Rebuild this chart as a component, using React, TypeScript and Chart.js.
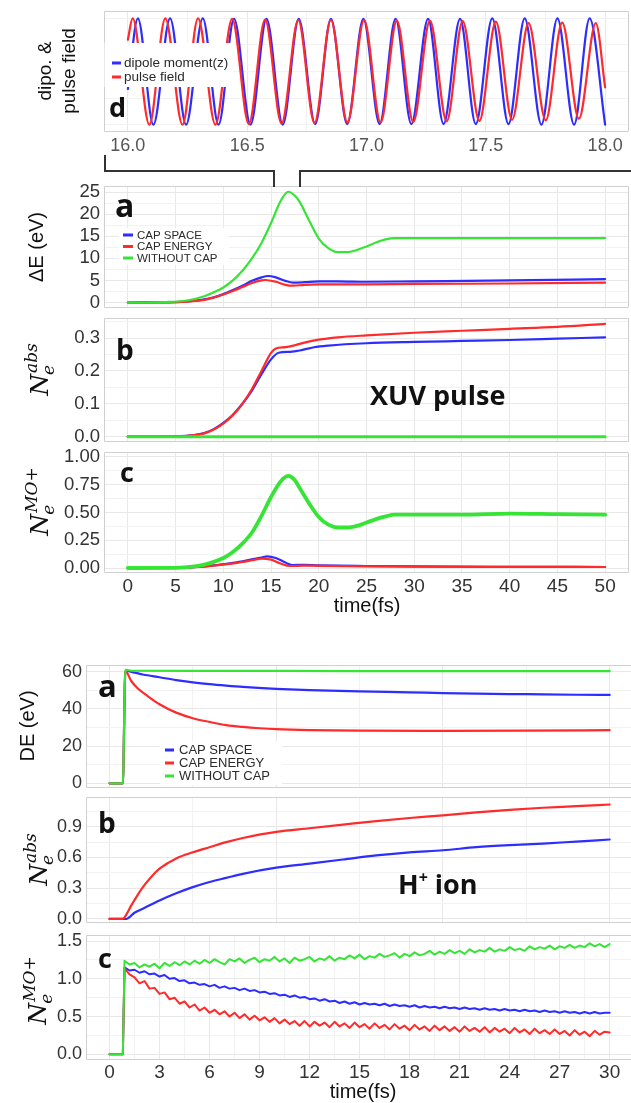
import React, { useEffect, useRef } from 'react';
import { Chart, registerables } from 'chart.js';

Chart.register(...registerables);

const PAGE_W = 631;
const PAGE_H = 1103;

const BLUE = '#2d2dff';
const RED = '#ff2a2a';
const GREEN = '#36e436';
const GRID_MAJOR = '#e8e8e8';
const GRID_MINOR = '#f2f2f2';
const FRAME = '#d0d0d0';
const SANS = "'Liberation Sans', Arial, sans-serif";
const BOLD = "'Open Sans', sans-serif";
const MATH = "'DejaVu Serif', serif";

// ---------- (d) dipole moment and pulse field, 16–18 fs: turning points ----------
const DIPOLE_T = [16.0, 16.042, 16.107, 16.177, 16.244, 16.314, 16.38, 16.445, 16.514, 16.581, 16.649, 16.716, 16.785, 16.851, 16.919, 16.987, 17.055, 17.122, 17.188, 17.258, 17.323, 17.392, 17.458, 17.527, 17.595, 17.663, 17.733, 17.8, 17.87, 17.935, 18.0];
const DIPOLE_V = [-0.33, 1.0, -1.0, 1.0, -1.0, 1.0, -1.0, 0.99, -1.0, 0.99, -1.0, 0.99, -0.99, 0.99, -0.99, 0.99, -0.99, 0.99, -0.99, 0.99, -0.99, 0.99, -0.99, 1.0, -0.99, 1.0, -1.0, 1.0, -1.0, 1.0, -1.0];
const PULSE_T = [16.0, 16.02, 16.09, 16.157, 16.229, 16.294, 16.367, 16.437, 16.507, 16.575, 16.644, 16.714, 16.782, 16.851, 16.92, 16.99, 17.059, 17.127, 17.196, 17.266, 17.336, 17.403, 17.473, 17.542, 17.61, 17.679, 17.751, 17.82, 17.89, 17.961, 18.0];
const PULSE_V = [0.6, 1.0, -1.0, 1.0, -1.0, 1.0, -1.0, 0.99, -0.99, 0.98, -0.98, 0.97, -0.97, 0.97, -0.96, 0.97, -0.96, 0.96, -0.95, 0.96, -0.94, 0.95, -0.93, 0.94, -0.91, 0.91, -0.92, 0.92, -0.89, 0.91, -0.3];

// ---------- XUV pulse, 0–50 fs ----------
// (a) energy gain ΔE (eV)
const XA_T_GREEN = [0, 2, 4, 6, 7, 8, 9, 10, 11, 12, 13, 14, 15, 16, 16.8, 17.5, 18, 19, 20, 21, 22, 23, 24, 25, 26, 27, 28, 30, 35, 40, 45, 50];
const XA_GREEN = [0, 0, 0.1, 0.4, 0.8, 1.4, 2.3, 3.4, 5.0, 7.2, 10.0, 13.5, 18.0, 23.0, 25.1, 24.2, 22.8, 18.5, 14.5, 12.3, 11.4, 11.4, 11.9, 12.7, 13.6, 14.3, 14.6, 14.6, 14.6, 14.6, 14.6, 14.6];
const XA_T_RED = [0, 5, 7, 8, 9, 10, 11, 12, 13, 14, 14.4, 15.5, 16.5, 17.3, 18.5, 20, 25, 30, 40, 50];
const XA_RED = [0, 0.05, 0.35, 0.6, 1.1, 1.8, 2.6, 3.5, 4.4, 5.0, 5.1, 4.7, 4.0, 3.8, 4.0, 4.1, 4.1, 4.2, 4.3, 4.5];
const XA_T_BLUE = [0, 5, 7, 8, 9, 10, 11, 12, 13, 14, 14.7, 15.5, 16.5, 17.3, 18.5, 20, 22, 25, 30, 40, 50];
const XA_BLUE = [0, 0.1, 0.4, 0.7, 1.2, 1.9, 2.8, 3.8, 4.9, 5.7, 6.0, 5.7, 4.9, 4.5, 4.6, 4.8, 4.8, 4.7, 4.8, 5.0, 5.3];

// (b) absorbed electrons
const XB_T_GREEN = [0, 50];
const XB_GREEN = [0, 0];
const XB_T_RED = [0, 5, 7, 8, 9, 10, 11, 12, 13, 14, 15, 15.5, 16.5, 17.5, 18.5, 20, 22, 25, 30, 35, 40, 45, 50];
const XB_RED = [0, 0.001, 0.005, 0.01, 0.022, 0.04, 0.065, 0.1, 0.145, 0.2, 0.255, 0.268, 0.272, 0.278, 0.286, 0.295, 0.302, 0.308, 0.316, 0.322, 0.328, 0.334, 0.343];
const XB_T_BLUE = [0, 5, 7, 8, 9, 10, 11, 12, 13, 14, 15, 15.8, 17, 18, 19.5, 21, 25, 30, 35, 40, 45, 50];
const XB_BLUE = [0, 0.001, 0.005, 0.011, 0.023, 0.042, 0.067, 0.1, 0.14, 0.19, 0.235, 0.255, 0.258, 0.262, 0.272, 0.277, 0.284, 0.288, 0.291, 0.294, 0.298, 0.302];

// (c) electrons left in the MO
const XC_T_GREEN = [0, 5, 7, 8, 9, 10, 11, 12, 13, 14, 15, 16, 16.8, 17.5, 18, 19, 20, 21, 22, 23, 24, 25, 26, 27, 28, 30, 35, 40, 45, 50];
const XC_GREEN = [0, 0.002, 0.015, 0.03, 0.055, 0.09, 0.145, 0.22, 0.32, 0.47, 0.64, 0.78, 0.83, 0.79, 0.72, 0.58, 0.46, 0.39, 0.365, 0.365, 0.38, 0.41, 0.44, 0.465, 0.48, 0.48, 0.48, 0.49, 0.485, 0.48];
const XC_T_RED = [0, 5, 8, 10, 12, 13, 14, 15, 16, 17, 18.5, 20, 25, 30, 40, 50];
const XC_RED = [0, 0.002, 0.013, 0.03, 0.055, 0.07, 0.085, 0.075, 0.04, 0.018, 0.022, 0.02, 0.015, 0.012, 0.01, 0.009];
const XC_T_BLUE = [0, 5, 8, 10, 12, 13, 14, 14.6, 15.5, 16.5, 17.2, 18.5, 20, 25, 30, 40, 50];
const XC_BLUE = [0, 0.002, 0.015, 0.035, 0.06, 0.078, 0.095, 0.105, 0.09, 0.05, 0.027, 0.028, 0.024, 0.018, 0.014, 0.011, 0.009];

// ---------- H+ ion, 0–30 fs ----------
// (a) DE (eV)
const IA_T_GREEN = [0, 0.8, 0.95, 1.3, 5, 10, 20, 30];
const IA_GREEN = [0, 0, 61, 60.5, 60.4, 60.4, 60.3, 60.3];
const IA_T_RED = [0, 0.8, 0.95, 1.3, 1.7, 2.2, 3, 4, 5, 6, 7, 8, 9, 10, 12, 15, 20, 25, 30];
const IA_RED = [0, 0, 60.5, 55, 51, 47.5, 42.5, 38, 35, 33, 31.3, 30.3, 29.6, 29.1, 28.6, 28.3, 28.2, 28.3, 28.6];
const IA_T_BLUE = [0, 0.8, 0.95, 1.5, 2, 3, 4, 5, 6, 7, 8, 10, 12, 15, 18, 20, 22, 25, 28, 30];
const IA_BLUE = [0, 0, 60.5, 59.5, 58.5, 57, 55.5, 54.3, 53.3, 52.5, 51.8, 50.8, 50.1, 49.4, 48.9, 48.5, 48.2, 47.9, 47.6, 47.5];

// (b) absorbed electrons
const IB_T_RED = [0, 0.8, 1.0, 1.3, 1.6, 2.0, 2.5, 3.0, 4, 5, 6, 7, 8, 10, 12, 14, 16, 18, 20, 22, 24, 26, 28, 30];
const IB_RED = [0, 0, 0.04, 0.13, 0.21, 0.31, 0.41, 0.49, 0.59, 0.65, 0.7, 0.75, 0.79, 0.85, 0.885, 0.92, 0.955, 0.985, 1.01, 1.04, 1.065, 1.085, 1.1, 1.117];
const IB_T_BLUE = [0, 0.8, 1.0, 1.5, 2, 2.5, 3, 4, 5, 6, 7, 8, 10, 12, 14, 16, 18, 20, 22, 24, 26, 28, 30];
const IB_BLUE = [0, 0, 0, 0.06, 0.1, 0.14, 0.18, 0.25, 0.31, 0.36, 0.4, 0.44, 0.5, 0.54, 0.58, 0.62, 0.65, 0.67, 0.7, 0.72, 0.735, 0.755, 0.775];

// (c) electrons left in the MO (sampled every 0.3 fs after the kick)
const IC_T = [
  0, 0.8,
  0.9, 1.2, 1.5, 1.8, 2.1, 2.4, 2.7, 3.0, 3.3, 3.6,
  3.9, 4.2, 4.5, 4.8, 5.1, 5.4, 5.7, 6.0, 6.3, 6.6,
  6.9, 7.2, 7.5, 7.8, 8.1, 8.4, 8.7, 9.0, 9.3, 9.6,
  9.9, 10.2, 10.5, 10.8, 11.1, 11.4, 11.7, 12.0, 12.3, 12.6,
  12.9, 13.2, 13.5, 13.8, 14.1, 14.4, 14.7, 15.0, 15.3, 15.6,
  15.9, 16.2, 16.5, 16.8, 17.1, 17.4, 17.7, 18.0, 18.3, 18.6,
  18.9, 19.2, 19.5, 19.8, 20.1, 20.4, 20.7, 21.0, 21.3, 21.6,
  21.9, 22.2, 22.5, 22.8, 23.1, 23.4, 23.7, 24.0, 24.3, 24.6,
  24.9, 25.2, 25.5, 25.8, 26.1, 26.4, 26.7, 27.0, 27.3, 27.6,
  27.9, 28.2, 28.5, 28.8, 29.1, 29.4, 29.7, 30.0,
];
const IC_GREEN = [
  0, 0,
  1.24, 1.19, 1.21, 1.15, 1.19, 1.16, 1.20, 1.14, 1.21, 1.17,
  1.22, 1.18, 1.23, 1.19, 1.24, 1.20, 1.25, 1.21, 1.26, 1.22,
  1.19, 1.26, 1.23, 1.27, 1.21, 1.25, 1.28, 1.22, 1.26, 1.24,
  1.29, 1.23, 1.27, 1.21, 1.28, 1.24, 1.26, 1.29, 1.23, 1.27,
  1.25, 1.30, 1.24, 1.28, 1.26, 1.31, 1.27, 1.32, 1.26, 1.30,
  1.28, 1.33, 1.29, 1.31, 1.34, 1.28, 1.33, 1.30, 1.35, 1.31,
  1.33, 1.37, 1.32, 1.36, 1.33, 1.38, 1.34, 1.37, 1.33, 1.39,
  1.35, 1.38, 1.36, 1.41, 1.36, 1.39, 1.37, 1.42, 1.38, 1.40,
  1.37, 1.43, 1.39, 1.42, 1.40, 1.44, 1.39, 1.43, 1.41, 1.45,
  1.41, 1.44, 1.42, 1.47, 1.43, 1.46, 1.42, 1.46,
];
const IC_BLUE = [
  0, 0,
  1.15, 1.11, 1.12, 1.08, 1.10, 1.06, 1.07, 1.03, 1.05, 1.00,
  1.01, 0.97, 0.98, 0.94, 0.95, 0.92, 0.93, 0.90, 0.92, 0.88,
  0.90, 0.87, 0.88, 0.85, 0.87, 0.84, 0.85, 0.82, 0.83, 0.80,
  0.81, 0.78, 0.79, 0.76, 0.78, 0.75, 0.76, 0.73, 0.74, 0.71,
  0.73, 0.70, 0.71, 0.68, 0.70, 0.67, 0.69, 0.66, 0.68, 0.66,
  0.67, 0.65, 0.67, 0.64, 0.66, 0.64, 0.65, 0.63, 0.65, 0.62,
  0.64, 0.62, 0.63, 0.61, 0.63, 0.61, 0.62, 0.60, 0.62, 0.60,
  0.61, 0.59, 0.61, 0.59, 0.60, 0.58, 0.60, 0.58, 0.59, 0.57,
  0.59, 0.57, 0.58, 0.56, 0.58, 0.56, 0.57, 0.55, 0.57, 0.55,
  0.56, 0.54, 0.56, 0.54, 0.56, 0.54, 0.55, 0.55,
];
const IC_RED = [
  0, 0,
  1.14, 1.06, 1.02, 0.94, 0.97, 0.87, 0.88, 0.80, 0.82, 0.73,
  0.75, 0.67, 0.70, 0.62, 0.66, 0.58, 0.62, 0.55, 0.59, 0.53,
  0.57, 0.50, 0.55, 0.48, 0.53, 0.46, 0.51, 0.45, 0.49, 0.43,
  0.48, 0.41, 0.46, 0.40, 0.44, 0.38, 0.44, 0.37, 0.43, 0.38,
  0.42, 0.36, 0.43, 0.37, 0.41, 0.35, 0.42, 0.36, 0.40, 0.34,
  0.41, 0.35, 0.39, 0.33, 0.40, 0.34, 0.38, 0.32, 0.39, 0.33,
  0.37, 0.31, 0.38, 0.32, 0.37, 0.31, 0.36, 0.30, 0.37, 0.31,
  0.35, 0.30, 0.36, 0.29, 0.35, 0.30, 0.34, 0.28, 0.35, 0.29,
  0.33, 0.27, 0.34, 0.28, 0.32, 0.27, 0.33, 0.27, 0.31, 0.25,
  0.32, 0.26, 0.30, 0.24, 0.31, 0.26, 0.30, 0.29,
];

// ---------- ticks and grid positions ----------
const D_X_LABELS = [16.0, 16.5, 17.0, 17.5, 18.0];
const D_X_GRID = [16.0, 16.25, 16.5, 16.75, 17.0, 17.25, 17.5, 17.75, 18.0];
const D_Y_GRID = [-1, -0.5, 0, 0.5, 1];
const XUV_X_LABELS = [0, 5, 10, 15, 20, 25, 30, 35, 40, 45, 50];
const XA_Y_LABELS = [0, 5, 10, 15, 20, 25];
const XA_Y_GRID = [0, 2.5, 5, 7.5, 10, 12.5, 15, 17.5, 20, 22.5, 25];
const XB_Y_LABELS = [0, 0.1, 0.2, 0.3];
const XB_Y_GRID = [0, 0.05, 0.1, 0.15, 0.2, 0.25, 0.3, 0.35];
const XC_Y_LABELS = [0, 0.25, 0.5, 0.75, 1.0];
const XC_Y_GRID = [0, 0.125, 0.25, 0.375, 0.5, 0.625, 0.75, 0.875, 1.0];
const ION_X_LABELS = [0, 3, 6, 9, 12, 15, 18, 21, 24, 27, 30];
const ION_X_GRID_C = [0, 1.5, 3, 4.5, 6, 7.5, 9, 10.5, 12, 13.5, 15, 16.5, 18, 19.5, 21, 22.5, 24, 25.5, 27, 28.5, 30];
const ION_X_GRID_AB = [0, 5, 10, 15, 20, 25, 30];
const ION_X_MAJOR_AB = [0, 10, 20, 30];
const IA_Y_LABELS = [0, 20, 40, 60];
const IA_Y_GRID = [0, 10, 20, 30, 40, 50, 60];
const IB_Y_LABELS = [0, 0.3, 0.6, 0.9];
const IB_Y_GRID = [0, 0.15, 0.3, 0.45, 0.6, 0.75, 0.9, 1.05];
const IC_Y_LABELS = [0, 0.5, 1.0, 1.5];
const IC_Y_GRID = [0, 0.25, 0.5, 0.75, 1.0, 1.25, 1.5];

const CAP_LEGEND: [string, string][] = [
  ['CAP SPACE', BLUE],
  ['CAP ENERGY', RED],
  ['WITHOUT CAP', GREEN],
];
const D_LEGEND: [string, string][] = [
  ['dipole moment(z)', BLUE],
  ['pulse field', RED],
];

// ---------- panel machinery ----------
type Series = { t: number[]; v: number[]; color: string; width: number; smooth: boolean };
type Axis = {
  min: number; max: number; grid: number[]; major: number[]; show: boolean;
  fmt: (v: number) => string; size?: number; color?: string; pad?: number;
};
type Legend = { items: [string, string][]; box: number[]; mark: number[]; textX: number; rows: number[]; size: number };
type Label = any;
type Panel = {
  top: number; height: number;
  area: { left: number; top: number; right: number; bottom: number };
  frameRight: boolean; x: Axis; y: Axis; series: Series[]; legend?: Legend; labels: Label[];
};

const near = (list: number[], v: number) => list.some((u) => Math.abs(u - v) < 1e-6);
const f0 = (v: number) => String(Math.round(v));
const f1 = (v: number) => v.toFixed(1);
const f2 = (v: number) => v.toFixed(2);

function scaleOptions(a: Axis, horizontal: boolean, fit: number) {
  return {
    type: 'linear',
    position: horizontal ? 'bottom' : 'left',
    min: a.min,
    max: a.max,
    afterBuildTicks: (s: any) => {
      s.ticks = a.grid.map((value) => ({ value }));
    },
    afterFit: (s: any) => {
      if (horizontal) {
        s.height = fit;
        s.paddingLeft = 0;
        s.paddingRight = 0;
      } else {
        s.width = fit;
        s.paddingTop = 0;
        s.paddingBottom = 0;
      }
    },
    ticks: {
      display: a.show,
      autoSkip: false,
      maxRotation: 0,
      minRotation: 0,
      padding: a.pad ?? 4,
      color: a.color ?? '#333',
      font: { family: SANS, size: a.size ?? 18 },
      callback: (value: number) => (near(a.major, value) ? a.fmt(value) : ''),
    },
    grid: {
      drawTicks: false,
      lineWidth: 1,
      color: (ctx: any) => (ctx.tick && near(a.major, ctx.tick.value) ? GRID_MAJOR : GRID_MINOR),
    },
    border: { display: false },
  };
}

function drawLabel(ctx: CanvasRenderingContext2D, l: Label, offY: number) {
  ctx.save();
  ctx.fillStyle = l.color ?? '#111';
  if (l.kind === 'math') {
    ctx.translate(l.x, l.y - offY);
    ctx.rotate(-Math.PI / 2);
    ctx.textAlign = 'left';
    ctx.textBaseline = 'alphabetic';
    const big = `italic normal ${l.size}px ${MATH}`;
    const small = `italic normal ${l.small}px ${MATH}`;
    ctx.font = big;
    const wb = ctx.measureText(l.base).width;
    ctx.font = small;
    const ws = Math.max(ctx.measureText(l.sub).width, ctx.measureText(l.sup).width);
    const x0 = -(wb + ws) / 2;
    ctx.font = big;
    ctx.fillText(l.base, x0, 0);
    ctx.font = small;
    ctx.fillText(l.sub, x0 + wb - 1, 6);
    ctx.fillText(l.sup, x0 + wb + 1, -11);
  } else if (l.kind === 'runs') {
    let x = l.x;
    ctx.textAlign = 'left';
    ctx.textBaseline = 'alphabetic';
    for (const r of l.runs) {
      ctx.font = `normal bold ${r.size}px ${BOLD}`;
      ctx.fillText(r.text, x, l.y - offY + (r.dy ?? 0));
      x += ctx.measureText(r.text).width;
    }
  } else {
    ctx.font = `normal ${l.weight ?? 'normal'} ${l.size}px ${l.family ?? SANS}`;
    ctx.textAlign = l.align ?? 'left';
    ctx.textBaseline = l.baseline ?? 'alphabetic';
    ctx.translate(l.x, l.y - offY);
    if (l.rotate) ctx.rotate(-Math.PI / 2);
    ctx.fillText(l.text, 0, 0);
  }
  ctx.restore();
}

function decorations(p: Panel) {
  return {
    id: 'panelDecor',
    afterDatasetsDraw(chart: any) {
      const ctx: CanvasRenderingContext2D = chart.ctx;
      const a = chart.chartArea;
      ctx.save();
      ctx.strokeStyle = FRAME;
      ctx.lineWidth = 1;
      ctx.beginPath();
      if (p.frameRight) {
        ctx.rect(a.left + 0.5, a.top + 0.5, a.right - a.left - 1, a.bottom - a.top - 1);
      } else {
        ctx.moveTo(a.right, a.top + 0.5);
        ctx.lineTo(a.left + 0.5, a.top + 0.5);
        ctx.lineTo(a.left + 0.5, a.bottom - 0.5);
        ctx.lineTo(a.right, a.bottom - 0.5);
      }
      ctx.stroke();
      const lg = p.legend;
      if (lg) {
        const oy = p.top;
        ctx.fillStyle = '#ffffff';
        ctx.fillRect(lg.box[0], lg.box[1] - oy, lg.box[2], lg.box[3]);
        ctx.font = `${lg.size}px ${SANS}`;
        ctx.textAlign = 'left';
        ctx.textBaseline = 'middle';
        lg.items.forEach(([name, color], i) => {
          const yy = lg.rows[i] - oy;
          ctx.strokeStyle = color;
          ctx.lineWidth = 3;
          ctx.beginPath();
          ctx.moveTo(lg.mark[0], yy);
          ctx.lineTo(lg.mark[1], yy);
          ctx.stroke();
          ctx.fillStyle = '#2a2a2a';
          ctx.fillText(name, lg.textX, yy + 0.5);
        });
      }
      ctx.restore();
    },
    afterDraw(chart: any) {
      p.labels.forEach((l) => drawLabel(chart.ctx, l, p.top));
    },
  };
}

function PanelChart({ p }: { p: Panel }) {
  const ref = useRef<HTMLCanvasElement>(null);
  useEffect(() => {
    const canvas = ref.current;
    if (!canvas) return;
    const chart = new Chart(canvas, {
      type: 'line',
      data: {
        datasets: p.series.map((s, i) => ({
          data: s.t.map((t, k) => ({ x: t, y: s.v[k] })),
          borderColor: s.color,
          borderWidth: s.width,
          pointRadius: 0,
          pointHoverRadius: 0,
          fill: false,
          tension: 0,
          cubicInterpolationMode: s.smooth ? 'monotone' : 'default',
          borderJoinStyle: 'round',
          borderCapStyle: 'round',
          order: i,
        })),
      },
      options: {
        animation: false,
        responsive: false,
        maintainAspectRatio: false,
        devicePixelRatio: 1,
        events: [],
        layout: { padding: { left: 0, top: p.area.top - p.top, right: PAGE_W - p.area.right, bottom: 0 } },
        plugins: { legend: { display: false }, tooltip: { enabled: false }, title: { display: false } },
        scales: {
          x: scaleOptions(p.x, true, p.top + p.height - p.area.bottom),
          y: scaleOptions(p.y, false, p.area.left),
        },
      } as any,
      plugins: [decorations(p)],
    } as any);
    return () => chart.destroy();
  }, [p]);
  return (
    <canvas
      ref={ref}
      width={PAGE_W}
      height={p.height}
      style={{ position: 'absolute', left: 0, top: p.top, width: PAGE_W, height: p.height }}
    />
  );
}

const txt = (text: string, x: number, y: number, size: number, extra: any = {}) => ({ kind: 'text', text, x, y, size, ...extra });
const vtitle = (text: string, x: number, y: number, size: number) =>
  txt(text, x, y, size, { rotate: true, align: 'center', baseline: 'middle' });
const letter = (text: string, x: number, y: number, size: number) =>
  txt(text, x, y, size, { family: BOLD, weight: 'bold' });
const nLabel = (sup: string, x: number, y: number) => ({ kind: 'math', base: 'N', sub: 'e', sup, x, y, size: 25, small: 17 });

const PANELS: Panel[] = [
  {
    top: 0, height: 165, area: { left: 104, top: 11, right: 629, bottom: 132 }, frameRight: true,
    x: { min: 15.9, max: 18.1, grid: D_X_GRID, major: D_X_LABELS, show: true, fmt: f1, size: 18, color: '#555', pad: 3 },
    y: { min: -1.14, max: 1.14, grid: D_Y_GRID, major: [], show: false, fmt: f1 },
    series: [
      { t: PULSE_T, v: PULSE_V, color: RED, width: 2.2, smooth: true },
      { t: DIPOLE_T, v: DIPOLE_V, color: BLUE, width: 2.2, smooth: true },
    ],
    legend: { items: D_LEGEND, box: [104.5, 43, 129, 44], mark: [112, 121], textX: 124, rows: [63, 77], size: 13.5 },
    labels: [vtitle('dipo. &', 46, 71, 19), vtitle('pulse field', 70, 71, 19), letter('d', 109, 117, 27)],
  },
  {
    top: 176, height: 137, area: { left: 104, top: 186, right: 629, bottom: 308 }, frameRight: true,
    x: { min: -2.5, max: 52.5, grid: XUV_X_LABELS, major: XUV_X_LABELS, show: false, fmt: f0 },
    y: { min: -1.25, max: 26.4, grid: XA_Y_GRID, major: XA_Y_LABELS, show: true, fmt: f0, size: 18.5 },
    series: [
      { t: XA_T_GREEN, v: XA_GREEN, color: GREEN, width: 2.2, smooth: true },
      { t: XA_T_RED, v: XA_RED, color: RED, width: 2.2, smooth: true },
      { t: XA_T_BLUE, v: XA_BLUE, color: BLUE, width: 2.2, smooth: true },
    ],
    legend: { items: CAP_LEGEND, box: [119, 228, 110, 37], mark: [123, 133], textX: 137, rows: [235, 246.5, 258], size: 11.5 },
    labels: [vtitle('ΔE (eV)', 37, 247, 20), letter('a', 115, 217, 32)],
  },
  {
    top: 313, height: 134, area: { left: 104, top: 318, right: 629, bottom: 442 }, frameRight: true,
    x: { min: -2.5, max: 52.5, grid: XUV_X_LABELS, major: XUV_X_LABELS, show: false, fmt: f0 },
    y: { min: -0.0161, max: 0.3608, grid: XB_Y_GRID, major: XB_Y_LABELS, show: true, fmt: f1, size: 18.5 },
    series: [
      { t: XB_T_GREEN, v: XB_GREEN, color: GREEN, width: 3, smooth: true },
      { t: XB_T_RED, v: XB_RED, color: RED, width: 2.2, smooth: true },
      { t: XB_T_BLUE, v: XB_BLUE, color: BLUE, width: 2.2, smooth: true },
    ],
    labels: [nLabel('abs', 48, 370), letter('b', 116, 360, 28), letter('XUV pulse', 370, 405, 27)],
  },
  {
    top: 447, height: 178, area: { left: 104, top: 452, right: 629, bottom: 573 }, frameRight: true,
    x: { min: -2.5, max: 52.5, grid: XUV_X_LABELS, major: XUV_X_LABELS, show: true, fmt: f0, size: 19, pad: 2 },
    y: { min: -0.045, max: 1.045, grid: XC_Y_GRID, major: XC_Y_LABELS, show: true, fmt: f2, size: 18.5 },
    series: [
      { t: XC_T_GREEN, v: XC_GREEN, color: GREEN, width: 3.8, smooth: true },
      { t: XC_T_RED, v: XC_RED, color: RED, width: 2.2, smooth: true },
      { t: XC_T_BLUE, v: XC_BLUE, color: BLUE, width: 2.2, smooth: true },
    ],
    labels: [nLabel('MO+', 48, 502), letter('c', 120, 482, 27), txt('time(fs)', 367, 606, 20, { align: 'center', baseline: 'middle' })],
  },
  {
    top: 645, height: 148, area: { left: 86, top: 665, right: 631, bottom: 788 }, frameRight: false,
    x: { min: -1.41, max: 31.28, grid: ION_X_GRID_AB, major: ION_X_MAJOR_AB, show: false, fmt: f0 },
    y: { min: -2.5, max: 63.6, grid: IA_Y_GRID, major: IA_Y_LABELS, show: true, fmt: f0, size: 18 },
    series: [
      { t: IA_T_GREEN, v: IA_GREEN, color: GREEN, width: 2.2, smooth: true },
      { t: IA_T_RED, v: IA_RED, color: RED, width: 2.2, smooth: true },
      { t: IA_T_BLUE, v: IA_BLUE, color: BLUE, width: 2.2, smooth: true },
    ],
    legend: { items: CAP_LEGEND, box: [160, 741, 122, 44], mark: [165, 174], textX: 179, rows: [750, 763, 776], size: 13 },
    labels: [vtitle('DE (eV)', 28, 726, 20), letter('a', 98, 697, 31)],
  },
  {
    top: 793, height: 135, area: { left: 86, top: 797, right: 631, bottom: 923 }, frameRight: false,
    x: { min: -1.41, max: 31.28, grid: ION_X_GRID_AB, major: ION_X_MAJOR_AB, show: false, fmt: f0 },
    y: { min: -0.04, max: 1.19, grid: IB_Y_GRID, major: IB_Y_LABELS, show: true, fmt: f1, size: 18 },
    series: [
      { t: IB_T_RED, v: IB_RED, color: RED, width: 2.2, smooth: true },
      { t: IB_T_BLUE, v: IB_BLUE, color: BLUE, width: 2.2, smooth: true },
    ],
    labels: [
      nLabel('abs', 47, 860),
      letter('b', 98, 833, 28),
      { kind: 'runs', x: 398, y: 894, runs: [{ text: 'H', size: 27 }, { text: '+', size: 16, dy: -11 }, { text: ' ion', size: 27 }] },
    ],
  },
  {
    top: 928, height: 175, area: { left: 86, top: 935, right: 631, bottom: 1060 }, frameRight: false,
    x: { min: -1.41, max: 31.28, grid: ION_X_GRID_C, major: ION_X_LABELS, show: true, fmt: f0, size: 19, pad: 1 },
    y: { min: -0.075, max: 1.58, grid: IC_Y_GRID, major: IC_Y_LABELS, show: true, fmt: f1, size: 18 },
    series: [
      { t: IC_T, v: IC_GREEN, color: GREEN, width: 2, smooth: false },
      { t: IC_T, v: IC_RED, color: RED, width: 2, smooth: false },
      { t: IC_T, v: IC_BLUE, color: BLUE, width: 2, smooth: false },
    ],
    labels: [nLabel('MO+', 46, 991), letter('c', 98, 968, 27), txt('time(fs)', 363, 1092, 20, { align: 'center', baseline: 'middle' })],
  },
];

export default function App() {
  return (
    <div style={{ position: 'absolute', left: 0, top: 0, width: PAGE_W, height: PAGE_H, overflow: 'hidden', background: '#fff' }}>
      {PANELS.map((p, i) => (
        <PanelChart key={i} p={p} />
      ))}
      <svg
        width={PAGE_W}
        height={PAGE_H}
        style={{ position: 'absolute', left: 0, top: 0, pointerEvents: 'none' }}
      >
        <polyline points="105,155 105,171 274,171 274,187" fill="none" stroke="#333" strokeWidth={2} />
        <polyline points="300,187 300,171 631,171" fill="none" stroke="#333" strokeWidth={2} />
      </svg>
    </div>
  );
}
